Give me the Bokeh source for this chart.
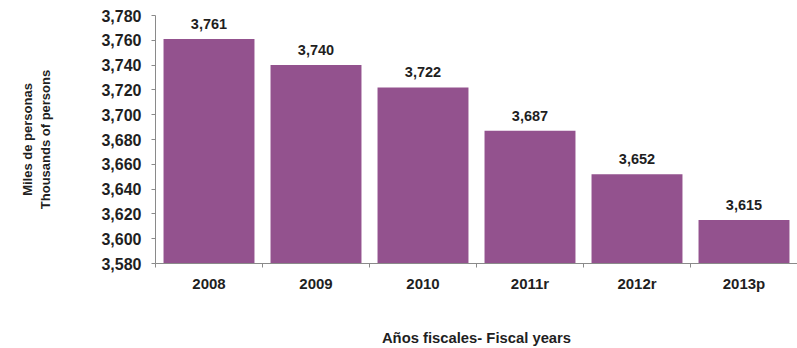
from bokeh.plotting import figure
from bokeh.models import ColumnDataSource, Range1d, FixedTicker, SingleIntervalTicker, NumeralTickFormatter, LabelSet
from bokeh.core.properties import value
from bokeh.embed import file_html
from bokeh.resources import INLINE

years = ["2008", "2009", "2010", "2011r", "2012r", "2013p"]
values = [3761, 3740, 3722, 3687, 3652, 3615]
value_labels = ["3,761", "3,740", "3,722", "3,687", "3,652", "3,615"]

FONT = "Liberation Sans"
TXT = "#1f1f1f"
AXC = "#8a8a8a"
BAR = "#93528e"

xpos = [i + 0.5 for i in range(len(years))]
src = ColumnDataSource(dict(x=xpos, top=values, lab=value_labels))

p = figure(width=797, height=348, output_backend="svg", toolbar_location=None,
           x_range=Range1d(0, len(years)), y_range=Range1d(3580, 3780),
           min_border_left=155, min_border_right=0, min_border_top=15, min_border_bottom=84)
p.outline_line_color = None
p.xgrid.grid_line_color = None
p.ygrid.grid_line_color = None
p.background_fill_color = "white"

p.vbar(x="x", top="top", bottom=3580, width=0.85, source=src, fill_color=BAR, line_color=None)

labels = LabelSet(x="x", y="top", text="lab", source=src, text_align="center",
                  text_baseline="alphabetic", y_offset=10, text_font=value(FONT),
                  text_font_style="bold", text_font_size="14.5px", text_color=TXT)
p.add_layout(labels)

# y axis
p.yaxis.ticker = SingleIntervalTicker(interval=20)
p.yaxis.formatter = NumeralTickFormatter(format="0,0")
p.yaxis.axis_line_color = AXC
p.yaxis.major_tick_line_color = AXC
p.yaxis.major_tick_in = 0
p.yaxis.major_tick_out = 4
p.yaxis.minor_tick_line_color = None
p.yaxis.major_label_standoff = 10
p.yaxis.major_label_text_font = FONT
p.yaxis.major_label_text_font_style = "bold"
p.yaxis.major_label_text_font_size = "16px"
p.yaxis.major_label_text_color = TXT
p.yaxis.axis_label = "Miles de personas\nThousands of persons"
p.yaxis.axis_label_text_font = FONT
p.yaxis.axis_label_text_font_style = "bold"
p.yaxis.axis_label_text_font_size = "13px"
p.yaxis.axis_label_text_color = TXT
p.yaxis.axis_label_standoff = 45

# x axis
p.xaxis.ticker = FixedTicker(ticks=xpos, minor_ticks=list(range(len(years) + 1)))
p.xaxis.major_label_overrides = {x: y for x, y in zip(xpos, years)}
p.xaxis.axis_line_color = AXC
p.xaxis.major_tick_line_color = None
p.xaxis.minor_tick_line_color = AXC
p.xaxis.minor_tick_in = 0
p.xaxis.minor_tick_out = 4
p.xaxis.major_label_standoff = 5
p.xaxis.major_label_text_font = FONT
p.xaxis.major_label_text_font_style = "bold"
p.xaxis.major_label_text_font_size = "15px"
p.xaxis.major_label_text_color = TXT
p.xaxis.axis_label = "Años fiscales- Fiscal years"
p.xaxis.axis_label_text_font = FONT
p.xaxis.axis_label_text_font_style = "bold"
p.xaxis.axis_label_text_font_size = "14.8px"
p.xaxis.axis_label_text_color = TXT
p.xaxis.axis_label_standoff = 35

open("out.html", "w").write(file_html(p, INLINE))
